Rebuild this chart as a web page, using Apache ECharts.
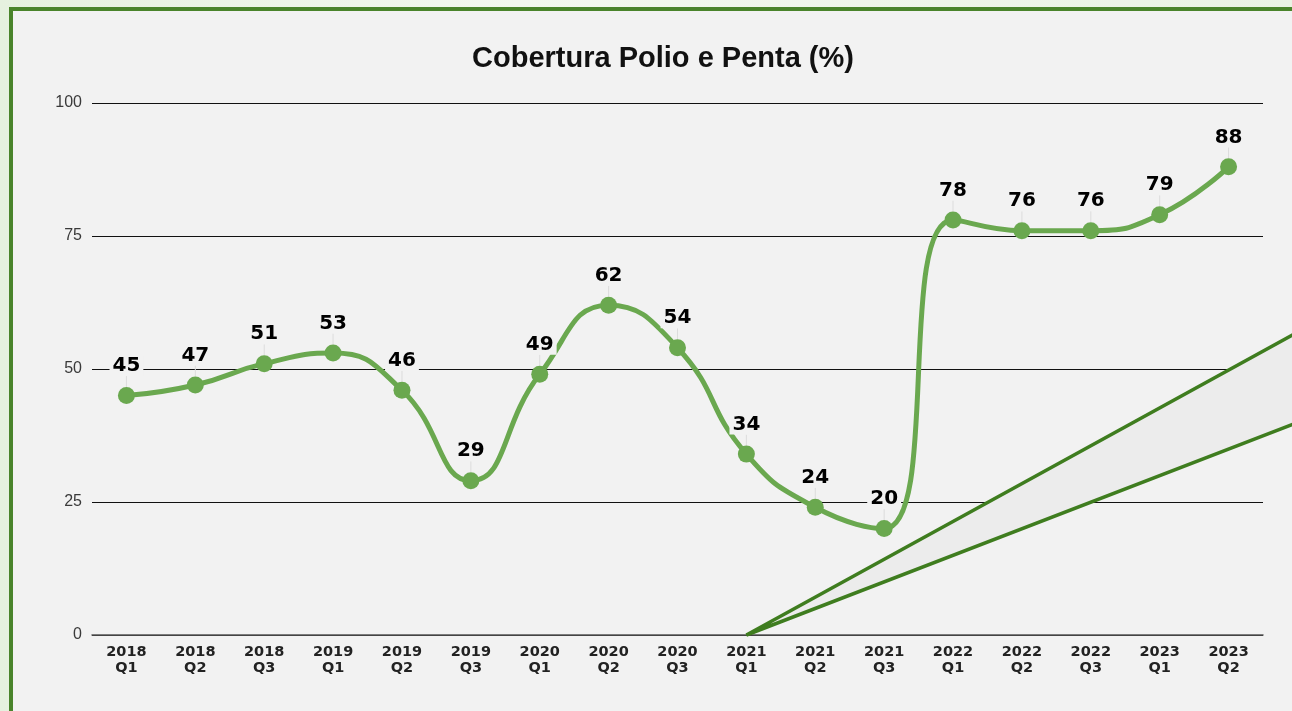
<!DOCTYPE html>
<html>
<head>
<meta charset="utf-8">
<script src="https://cdn.jsdelivr.net/npm/echarts@6/dist/echarts.min.js"></script>
<style>
html,body{margin:0;padding:0;width:1292px;height:711px;overflow:hidden;}
body{background:linear-gradient(90deg,#e6f1df 0%,#f3f8ef 40%,#eaf3e4 100%);}
#frame{position:absolute;left:9px;top:7px;width:1300px;height:720px;border:4px solid #4a842b;background:#f2f2f2;box-sizing:border-box;}
#chart{position:absolute;left:0;top:0;width:1292px;height:711px;}
</style>
</head>
<body>
<div id="frame"></div>
<div id="chart"></div>
<script>
const titleText = 'Cobertura Polio e Penta (%)';
const categories = ['2018\nQ1','2018\nQ2','2018\nQ3','2019\nQ1','2019\nQ2','2019\nQ3','2020\nQ1','2020\nQ2','2020\nQ3','2021\nQ1','2021\nQ2','2021\nQ3','2022\nQ1','2022\nQ2','2022\nQ3','2023\nQ1','2023\nQ2'];
const coverage = [45,47,51,53,46,29,49,62,54,34,24,20,78,76,76,79,88];
const yTicks = {min:0, max:100, interval:25};

const chart = echarts.init(document.getElementById('chart'), null, {renderer:'canvas'});
chart.setOption({
  backgroundColor:'transparent',
  animation:false,
  title:{text:titleText,left:658,textAlign:'center',top:39,
    textStyle:{fontFamily:'Liberation Sans, Arial, sans-serif',fontSize:29,fontWeight:'bold',color:'#111'}},
  grid:{left:92,right:29,top:103,bottom:76},
  xAxis:{type:'category',data:categories,boundaryGap:true,
    axisLine:{show:true,lineStyle:{color:'#555',width:1.5}},
    axisTick:{show:false},
    axisLabel:{interval:0,margin:9,fontFamily:'DejaVu Sans, Verdana, sans-serif',fontSize:14.5,fontWeight:'bold',color:'#222',lineHeight:16}},
  yAxis:{type:'value',min:yTicks.min,max:yTicks.max,interval:yTicks.interval,
    axisLine:{show:false},axisTick:{show:false},
    splitLine:{lineStyle:{color:'#111',width:1.2}},
    axisLabel:{margin:10,fontFamily:'Liberation Sans, Arial, sans-serif',fontSize:16,color:'#3a3a3a'}},
  series:[{
    type:'line',data:coverage,smooth:0.5,
    symbol:'circle',symbolSize:17,
    lineStyle:{color:'#6aa84f',width:5},
    itemStyle:{color:'#6aa84f'},
    z:5,
    label:{show:true,position:'top',distance:4,
      fontFamily:'DejaVu Sans, Verdana, sans-serif',fontSize:20,fontWeight:'bold',color:'#000',
      backgroundColor:'#f2f2f2',padding:[0,3]},
    labelLayout:{dy:-7},
    labelLine:{show:true,lineStyle:{color:'#dcdcdc',width:1}}
  }]
});

// decorative wedge from the 2021 Q1 baseline towards the right edge
const apex = chart.convertToPixel({xAxisIndex:0,yAxisIndex:0},[9,0]);
chart.setOption({graphic:[{
  type:'polygon',z:3,
  shape:{points:[[apex[0],apex[1]],[1296,333],[1296,423]]},
  style:{fill:'#ececec',stroke:'#3f7d1f',lineWidth:3.5,lineJoin:'miter'}
}]});
</script>
</body>
</html>
